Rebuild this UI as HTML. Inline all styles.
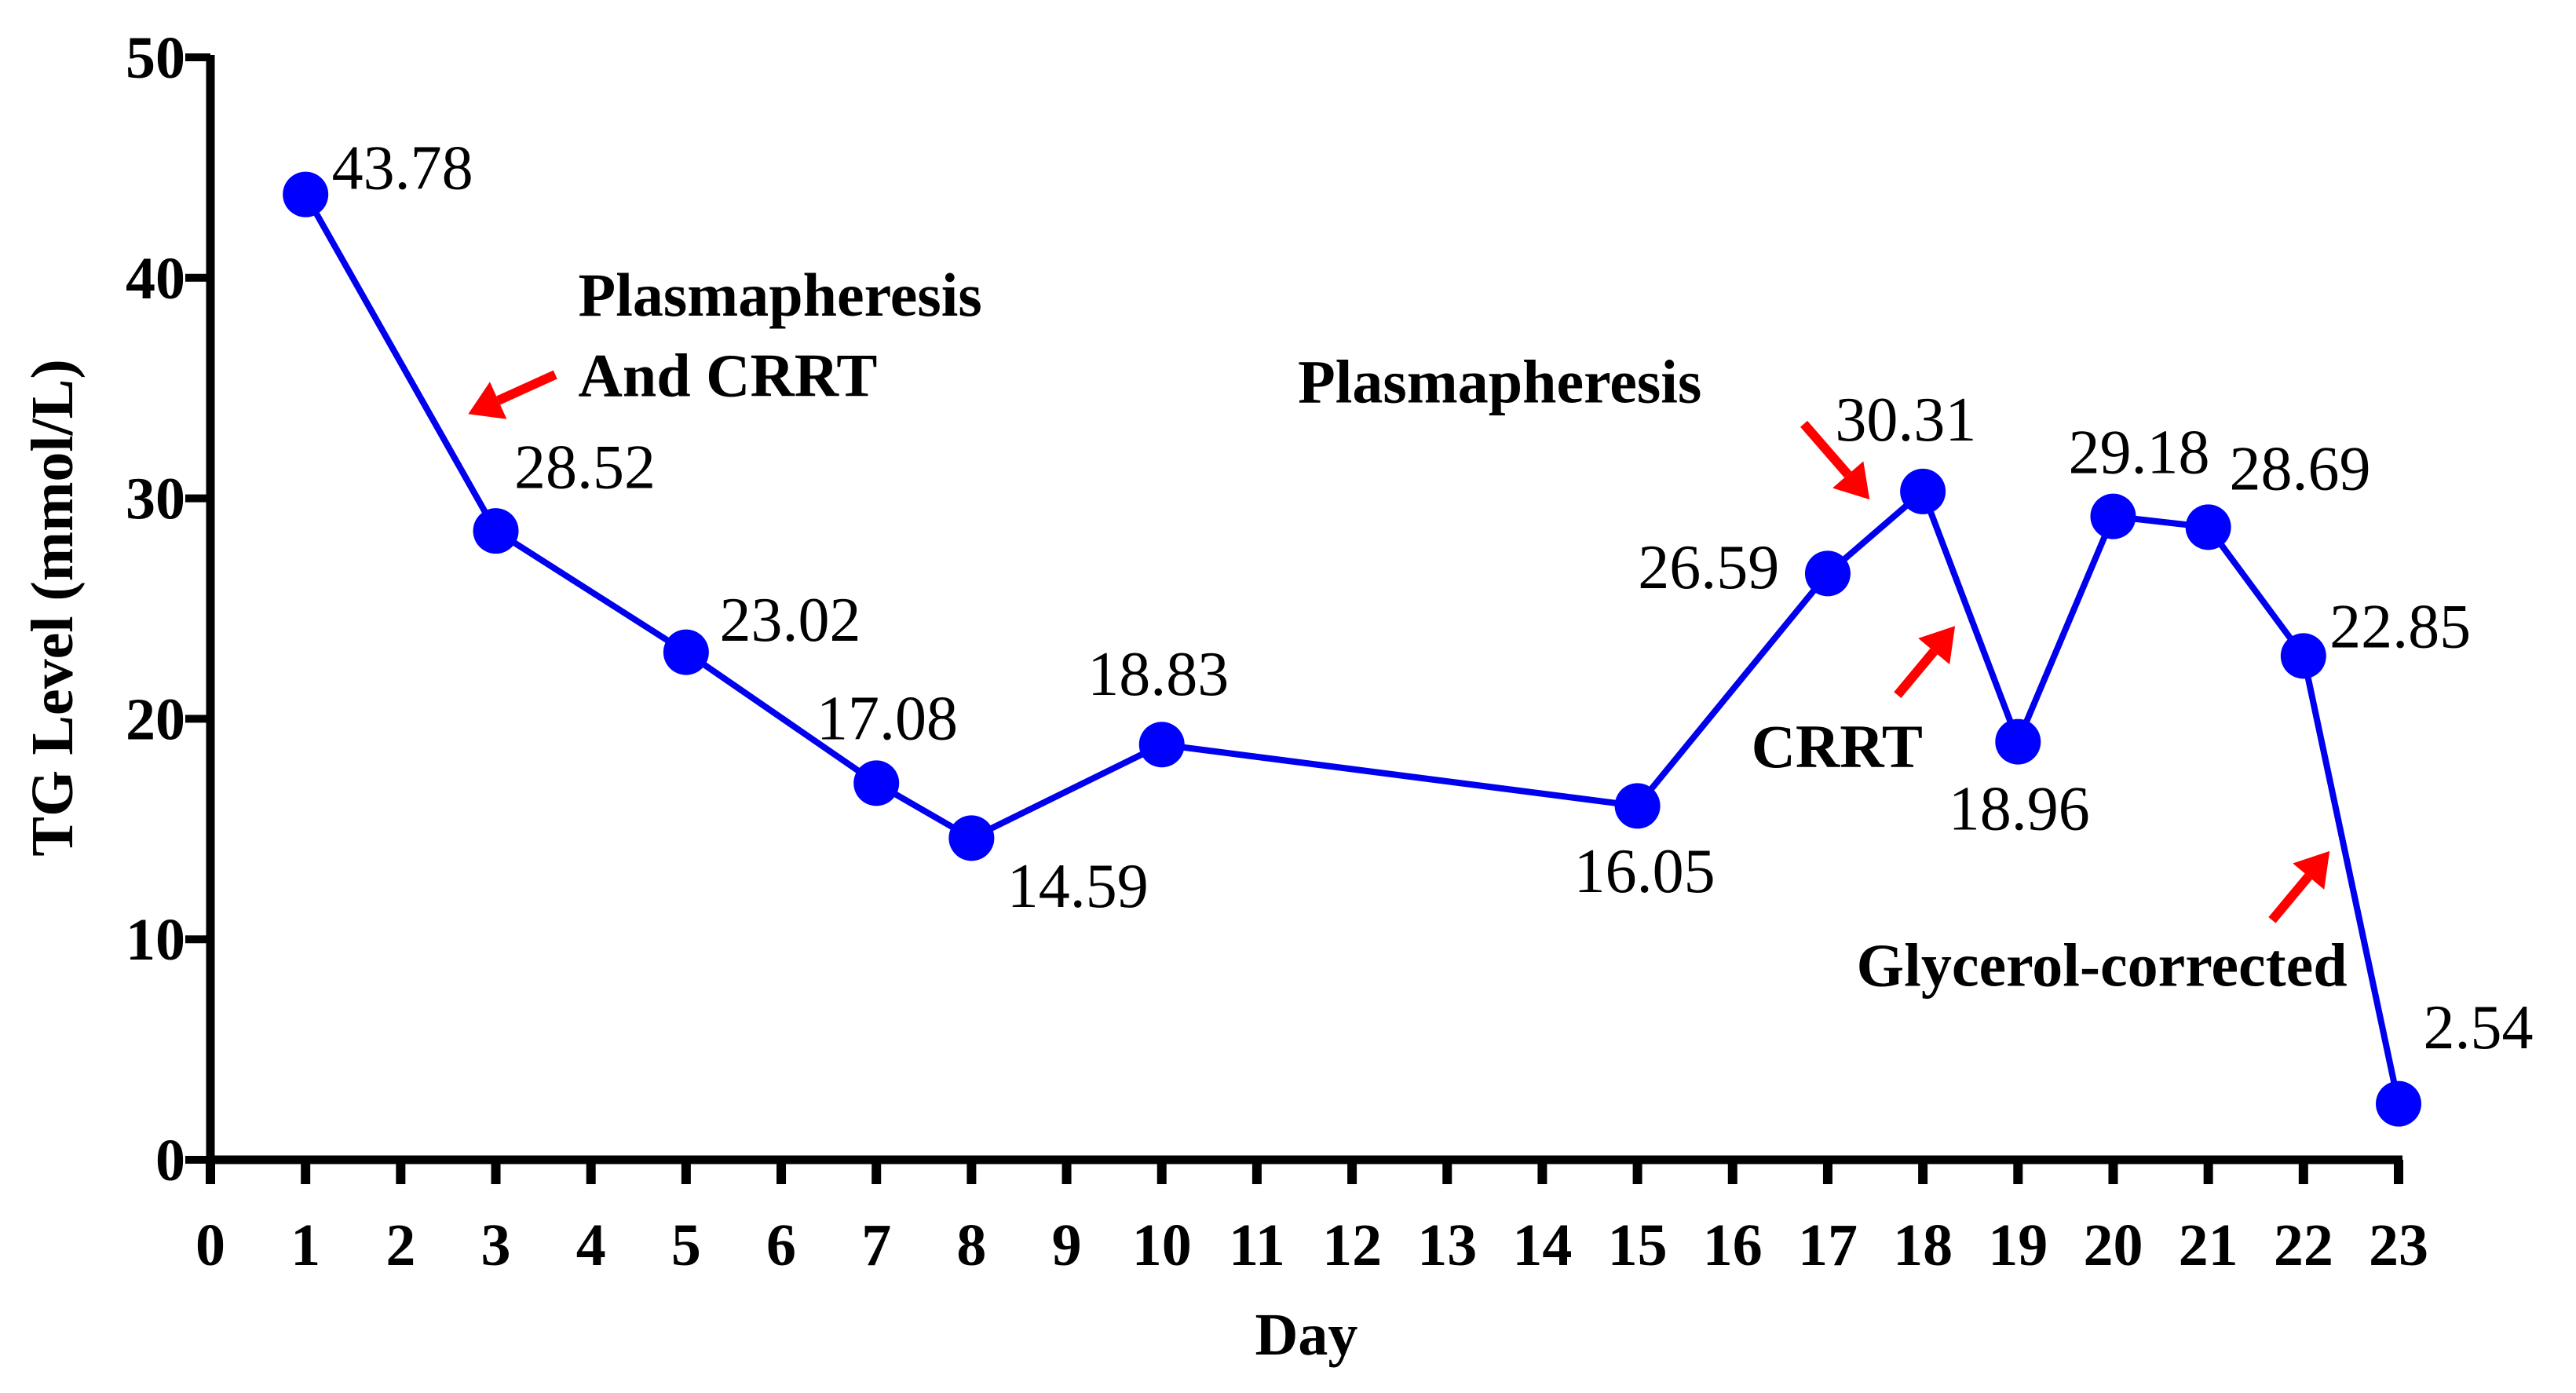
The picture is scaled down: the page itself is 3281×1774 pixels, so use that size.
<!DOCTYPE html>
<html><head><meta charset="utf-8"><style>
html,body{margin:0;padding:0;background:#fff;}
svg{display:block;}
svg text{font-family:"Liberation Serif", serif;}
</style></head><body>
<svg id="chart" width="3281" height="1774" viewBox="0 0 3281 1774" xmlns="http://www.w3.org/2000/svg"></svg>
<script>
const days = [1,3,5,7,8,10,15,17,18,19,20,21,22,23];
const values = [43.78,28.52,23.02,17.08,14.59,18.83,16.05,26.59,30.31,18.96,29.18,28.69,22.85,2.54];
const valueLabels = ["43.78","28.52","23.02","17.08","14.59","18.83","16.05","26.59","30.31","18.96","29.18","28.69","22.85","2.54"];
const xTicks = [0,1,2,3,4,5,6,7,8,9,10,11,12,13,14,15,16,17,18,19,20,21,22,23];
const yTicks = [0,10,20,30,40,50];

const S = 2.0925;
const X0 = 268, X1 = 3055, Y0 = 1477, Y1 = 73;
function xs(d){ return X0 + (d - 0) / 23 * (X1 - X0); }
function ys(v){ return Y0 - v / 50 * (Y0 - Y1); }
const NS = "http://www.w3.org/2000/svg";
const svg = document.getElementById('chart');
function mk(tag, attrs, parent){
  const e = document.createElementNS(NS, tag);
  for (const k in attrs) e.setAttribute(k, attrs[k]);
  (parent||svg).appendChild(e);
  return e;
}
const labelPos = [[202,115],[313,297],[438,390],[497,450],[613,552],[662,423],[958,543],[997,358],[1117,268],[1186,505],[1259,288],[1357,298],[1418,394],[1475,638]];

const yAxis = mk('line',{x1:X0,y1:Y1-3,x2:X0,y2:Y0+6,stroke:'#000','stroke-width':11});


const xAxis = mk('line',{x1:X0-5,y1:Y0,x2:X1+5,y2:Y0,stroke:'#000','stroke-width':11});



yTicks.forEach(t=>{
  const y = ys(t);
  const l = mk('line',{x1:X0-32,y1:y,x2:X0,y2:y,stroke:'#000','stroke-width':10});
  
  
  const tx = mk('text',{x:236,y:y+26,'text-anchor':'end','font-size':76,'font-weight':'bold',fill:'#000'});
  tx.textContent = t;
  
  
});
xTicks.forEach(t=>{
  const x = xs(t);
  const l = mk('line',{x1:x,y1:Y0,x2:x,y2:Y0+31,stroke:'#000','stroke-width':12});
  
  
  const tx = mk('text',{x:x,y:1611,'text-anchor':'middle','font-size':76,'font-weight':'bold',fill:'#000'});
  tx.textContent = t;
  
  
});

const yt = mk('text',{x:0,y:0,transform:'translate(92,774) rotate(-90)','text-anchor':'middle','font-size':76,'font-weight':'bold',fill:'#000'});
yt.textContent = 'TG Level (mmol/L)';


const xt = mk('text',{x:1664,y:1725,'text-anchor':'middle','font-size':76,'font-weight':'bold',fill:'#000'});
xt.textContent = 'Day';



const pts = days.map((d,i)=>xs(d)+','+ys(values[i])).join(' ');
const pl = mk('polyline',{points:pts,fill:'none',stroke:'#0000ee','stroke-width':8,'stroke-linejoin':'round'});


days.forEach((d,i)=>{
  const c = mk('circle',{cx:xs(d),cy:ys(values[i]),r:29,fill:'#0000ff'});
  
  
  const p = labelPos[i];
  const tx = mk('text',{x:p[0]*S,y:p[1]*S,'font-size':80,fill:'#000'});
  tx.textContent = valueLabels[i];
  
  
});

const notes = [["Plasmapheresis",352,192],["And CRRT",352,241],["Plasmapheresis",790,245],["CRRT",1066,467],["Glycerol-corrected",1130,600]];
notes.forEach(n=>{
  const tx = mk('text',{x:n[1]*S,y:n[2]*S,'font-size':78,'font-weight':'bold',fill:'#000'});
  tx.textContent = n[0];
  
  
});
const arrows = [[338,228,285,252],[1098,258,1138,304],[1155,423,1190,381],[1383,560,1418,518]];
arrows.forEach(a=>{
  const x1=a[0]*S,y1=a[1]*S,x2=a[2]*S,y2=a[3]*S;
  const dx=x2-x1, dy=y2-y1, L=Math.hypot(dx,dy), ux=dx/L, uy=dy/L;
  const hl=42, hw=26;
  const bx=x2-ux*hl, by=y2-uy*hl;
  const g = mk('g',{});
  
  
  mk('line',{x1:x1,y1:y1,x2:bx,y2:by,stroke:'#ff0000','stroke-width':12},g);
  mk('polygon',{points:`${x2},${y2} ${bx-uy*hw},${by+ux*hw} ${bx+uy*hw},${by-ux*hw}`,fill:'#ff0000'},g);
});
</script>
</body></html>
